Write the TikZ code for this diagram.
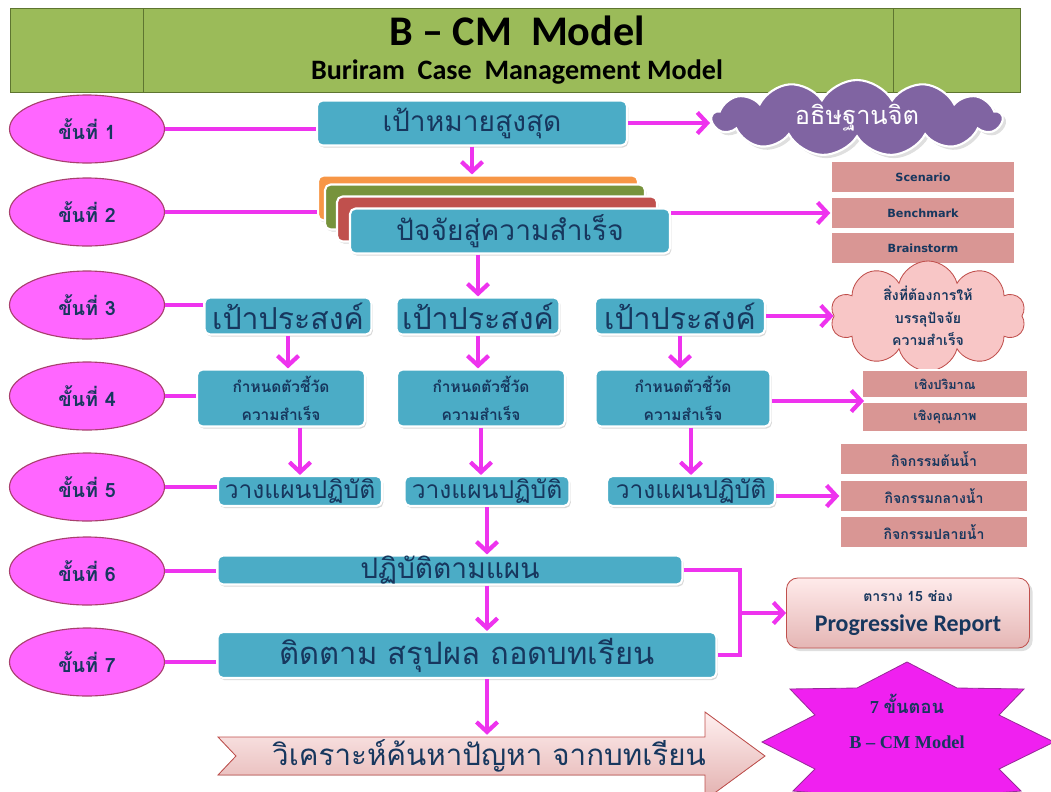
\documentclass[tikz,border=0pt]{standalone}
\usepackage{fontspec}
\setmainfont{Liberation Serif}
\newfontfamily\thaifont[Script=Thai]{Loma}
\newfontfamily\calfont{Carlito}
\newfontfamily\tahfont{DejaVu Sans}
\usetikzlibrary{shapes.geometric,shapes.symbols,shadows,arrows.meta}

\definecolor{hdrgreen}{HTML}{9BBB59}
\definecolor{hdredge}{HTML}{5E7530}
\definecolor{boxblue}{HTML}{4BACC6}
\definecolor{navy}{HTML}{17375E}
\definecolor{linkpink}{HTML}{EE33EE}
\definecolor{ovalpink}{HTML}{FF66FF}
\definecolor{ovaledge}{HTML}{A8406E}
\definecolor{rosefill}{HTML}{D99694}
\definecolor{cloudpurple}{HTML}{8064A2}
\definecolor{cloudpink}{HTML}{F8C6C6}
\definecolor{edgered}{HTML}{C0504D}
\definecolor{accorange}{HTML}{F79646}
\definecolor{accgreen}{HTML}{77933C}
\definecolor{accred}{HTML}{C0504D}
\definecolor{starpink}{HTML}{F020F0}
\definecolor{starline}{HTML}{9A2A9A}

\tikzset{
  wh/.style 2 args={minimum width=#1*0.025cm,minimum height=#2*0.025cm},
  stepoval/.style={ellipse,draw=ovaledge,fill=ovalpink,line width=0.8pt,wh={155}{68},
    text=navy,font=\thaifont\bfseries\fontsize{14}{16}\selectfont},
  bluebox/.style={rectangle,rounded corners=4pt,fill=boxblue,draw=white,line width=1.5pt,
    text=navy,inner sep=0pt,drop shadow={opacity=0.3,shadow xshift=1pt,shadow yshift=-1.5pt}},
  rosebox/.style={rectangle,fill=rosefill,draw=white,line width=1pt,text=navy,inner sep=0pt},
  link/.style={draw=linkpink,line width=3pt},
  arr/.style={link,-{Straight Barb[length=7pt,width=15pt]}},
}

\begin{document}
\begin{tikzpicture}[x=0.025cm,y=-0.025cm]
\useasboundingbox (0,0) rectangle (1051,791);
\clip (0,0) rectangle (1051,791);

% header
\node[draw=hdredge,fill=hdrgreen,wh={1010}{84},inner sep=0pt] (header) at (515,50) {};
\draw[hdredge] (143,8) -- (143,92) (893,8) -- (893,92);
\node[font=\calfont\bfseries\fontsize{30}{32}\selectfont] (title) at (517,31) {B – CM\ \ Model};
\node[font=\calfont\bfseries\fontsize{20}{22}\selectfont] (subtitle) at (517,72) {Buriram\ \ Case\ \ Management Model};

% steps
\foreach \n/\y in {1/129,2/212,3/305,4/396,5/487,6/571,7/662}
  \node[stepoval] (s\n) at (87,\y) {ขั้นที่ \n};

% step 1
\node[bluebox,wh={310}{45},font=\thaifont\fontsize{20}{22}\selectfont] (goal) at (472,123) {เป้าหมายสูงสุด};
\node[cloud,cloud ignores aspect,cloud puffs=13,cloud puff arc=120,inner sep=0pt,fill=cloudpurple,
  draw=white,line width=1.5pt,text=white,wh={290}{76},drop shadow={opacity=0.25},
  font=\thaifont\fontsize{18}{20}\selectfont] (mind) at (857,118) {อธิษฐานจิต};

% step 2
\node[bluebox,fill=accorange,wh={320}{45}] (fo) at (478,198) {};
\node[bluebox,fill=accgreen,wh={320}{45}] (fg) at (485,207) {};
\node[bluebox,fill=accred,wh={320}{45}] (fr) at (497,219) {};
\node[bluebox,wh={320}{45},font=\thaifont\fontsize{20}{22}\selectfont] (factor) at (510,231) {ปัจจัยสู่ความสำเร็จ};
\node[rosebox,wh={184}{31},font=\tahfont\bfseries\fontsize{8}{9}\selectfont] (scen) at (923,177) {Scenario};
\node[rosebox,wh={184}{31},font=\tahfont\bfseries\fontsize{8}{9}\selectfont] (bench) at (923,213) {Benchmark};
\node[rosebox,wh={184}{31},font=\tahfont\bfseries\fontsize{8}{9}\selectfont] (brain) at (923,248) {Brainstorm};

% step 3
\node[bluebox,wh={167}{37},font=\thaifont\fontsize{21.5}{23}\selectfont] (obj1) at (288,316) {เป้าประสงค์};
\node[bluebox,wh={163}{37},font=\thaifont\fontsize{21.5}{23}\selectfont] (obj2) at (478,316) {เป้าประสงค์};
\node[bluebox,wh={170}{37},font=\thaifont\fontsize{21.5}{23}\selectfont] (obj3) at (680,316) {เป้าประสงค์};
\node[cloud,cloud ignores aspect,cloud puffs=10,inner sep=0pt,fill=cloudpink,draw=edgered,
  line width=0.6pt,wh={195}{92},align=center,text=navy,
  font=\thaifont\bfseries\fontsize{10}{16}\selectfont] (wish) at (928,316)
  {สิ่งที่ต้องการให้\\บรรลุปัจจัย\\ความสำเร็จ};

% step 4
\node[bluebox,wh={168}{57},align=center,font=\thaifont\bfseries\fontsize{11}{20}\selectfont] (kpi1) at (281,398) {กำหนดตัวชี้วัด\\ความสำเร็จ};
\node[bluebox,wh={168}{57},align=center,font=\thaifont\bfseries\fontsize{11}{20}\selectfont] (kpi2) at (481,398) {กำหนดตัวชี้วัด\\ความสำเร็จ};
\node[bluebox,wh={175}{57},align=center,font=\thaifont\bfseries\fontsize{11}{20}\selectfont] (kpi3) at (683,398) {กำหนดตัวชี้วัด\\ความสำเร็จ};
\node[rosebox,wh={166}{28},font=\thaifont\bfseries\fontsize{9}{10}\selectfont] (qty) at (945,384) {เชิงปริมาณ};
\node[rosebox,wh={166}{29},font=\thaifont\bfseries\fontsize{9}{10}\selectfont] (qual) at (945,417) {เชิงคุณภาพ};
\coordinate (qtyin) at (864,401);

% step 5
\node[bluebox,wh={164}{30},font=\thaifont\fontsize{17.5}{19}\selectfont] (plan1) at (300,491) {วางแผนปฏิบัติ};
\node[bluebox,wh={165}{30},font=\thaifont\fontsize{17.5}{19}\selectfont] (plan2) at (487,491) {วางแผนปฏิบัติ};
\node[bluebox,wh={168}{30},font=\thaifont\fontsize{17.5}{19}\selectfont] (plan3) at (691,491) {วางแผนปฏิบัติ};
\node[rosebox,wh={188}{32},font=\thaifont\bfseries\fontsize{10}{11}\selectfont] (act1) at (934,459) {กิจกรรมต้นน้ำ};
\node[rosebox,wh={188}{32},font=\thaifont\bfseries\fontsize{10}{11}\selectfont] (act2) at (934,496) {กิจกรรมกลางน้ำ};
\node[rosebox,wh={188}{32},font=\thaifont\bfseries\fontsize{10}{11}\selectfont] (act3) at (934,532) {กิจกรรมปลายน้ำ};

% step 6 and 7
\node[bluebox,wh={465}{29},font=\thaifont\fontsize{20}{22}\selectfont] (doplan) at (450,570) {ปฏิบัติตามแผน};
\node[bluebox,wh={499}{46},font=\thaifont\fontsize{22}{24}\selectfont] (track) at (467,655) {ติดตาม สรุปผล ถอดบทเรียน};
\node[rounded corners=8pt,draw=edgered,line width=0.6pt,top color=red!8,bottom color=rosefill!70,
  wh={243}{70},align=center,text=navy,drop shadow={opacity=0.25}] (report) at (908,613)
  {{\thaifont\bfseries\fontsize{10}{12}\selectfont ตาราง 15 ช่อง}\\[9pt]{\calfont\bfseries\fontsize{17}{19}\selectfont Progressive Report}};
\coordinate (brk) at (740,613);

% lesson arrow
\filldraw[draw=edgered,line width=0.6pt,top color=red!6,bottom color=rosefill!75]
  (218,737) -- (705,737) -- (705,712) -- (765,756) -- (705,800) -- (705,775) -- (218,775) -- (236,756) -- cycle;
\node[wh={470}{38},font=\thaifont\fontsize{21}{23}\selectfont,text=navy] (lesson) at (489,756) {วิเคราะห์ค้นหาปัญหา จากบทเรียน};

% star
\filldraw[draw=starline,fill=starpink,line width=0.6pt]
  (907,662) -- (957,688) -- (1024,689) -- (999,715) -- (1054,742) -- (999,769) -- (1021,791) -- (957,796)
  -- (907,822) -- (857,796) -- (793,791) -- (815,769) -- (762,742) -- (815,715) -- (790,689) -- (857,688) -- cycle;
\node[align=center,text=navy,font=\bfseries\fontsize{13}{15}\selectfont] (steps) at (907,721)
  {7 {\thaifont ขั้นตอน}\\[10pt]B – CM Model};

% links
\draw[link] (s1.east) -- (s1.east -| goal.west);
\draw[link] (s2.east) -- (s2.east -| fo.west);
\draw[link] (s3.east) -- (s3.east -| obj1.west);
\draw[link] (s4.east) -- (s4.east -| kpi1.west);
\draw[link] (s5.east) -- (s5.east -| plan1.west);
\draw[link] (s6.east) -- (s6.east -| doplan.west);
\draw[link] (s7.east) -- (s7.east -| track.west);

\draw[arr] (goal.east) -- (goal.east -| mind.west);
\draw[arr] (bench.west -| factor.east) -- (bench.west);
\draw[arr] (obj3.east) -- (obj3.east -| wish.west);
\draw[arr] (kpi3.east |- qtyin) -- (qtyin);
\draw[arr] (plan3.east |- act2.west) -- (act2.west);

\draw[arr] (goal.south) -- (goal.south |- fo.north);
\draw[arr] (obj2.north |- factor.south) -- (obj2.north);
\draw[arr] (obj1.south) -- (obj1.south |- kpi1.north);
\draw[arr] (obj2.south) -- (obj2.south |- kpi2.north);
\draw[arr] (obj3.south) -- (obj3.south |- kpi3.north);
\draw[arr] (plan1.north |- kpi1.south) -- (plan1.north);
\draw[arr] (kpi2.south) -- (kpi2.south |- plan2.north);
\draw[arr] (plan3.north |- kpi3.south) -- (plan3.north);
\draw[arr] (plan2.south) -- (plan2.south |- doplan.north);
\draw[arr] (plan2.south |- doplan.south) -- (plan2.south |- track.north);
\draw[arr] (plan2.south |- track.south) -- (plan2.south |- lesson.north);

\draw[link] (doplan.east) -| (brk) |- (track.east);
\draw[arr] (brk) -- (report.west);
\end{tikzpicture}
\end{document}
